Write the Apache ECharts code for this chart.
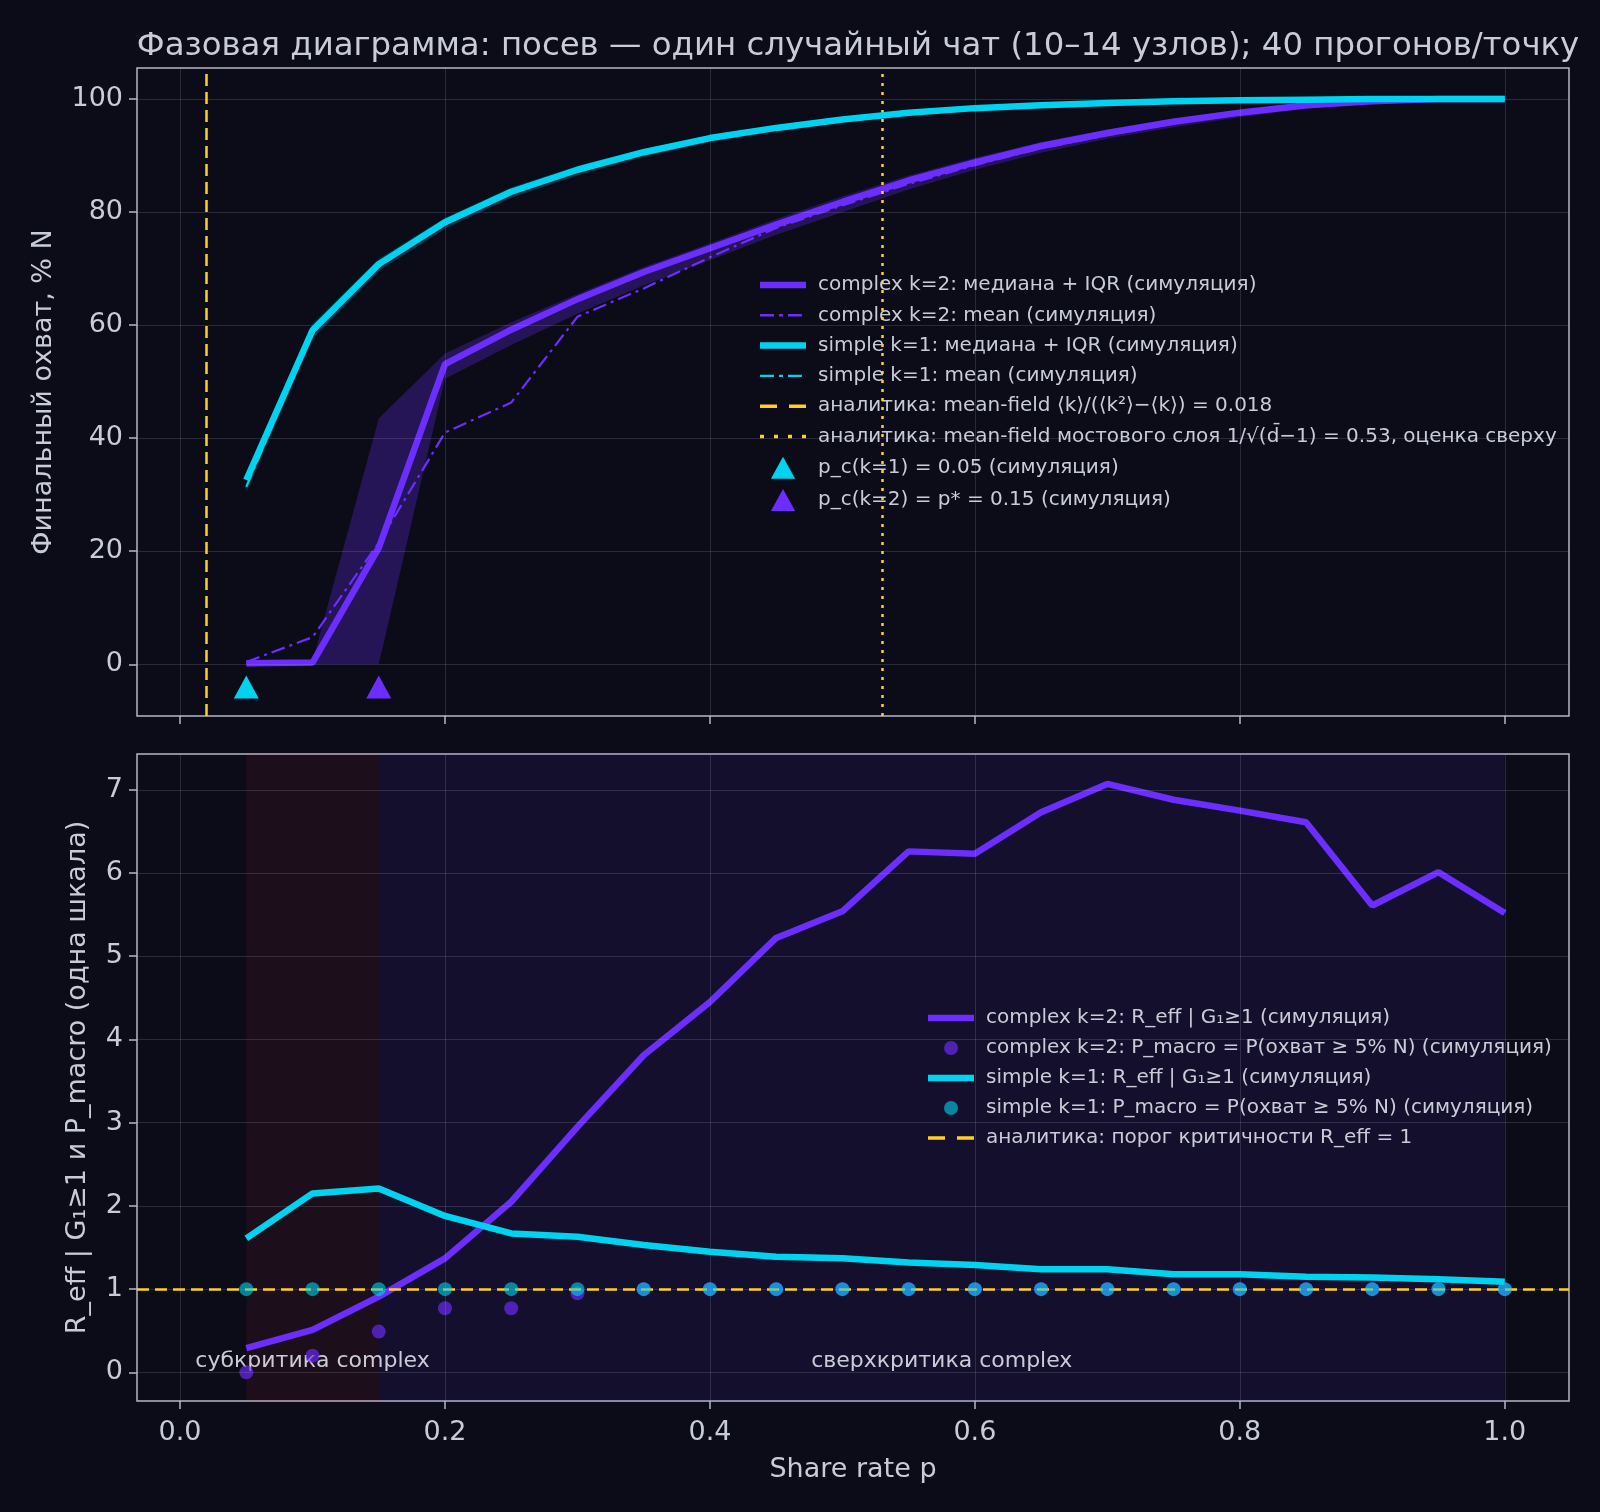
<!DOCTYPE html>
<html>
<head>
<meta charset="utf-8">
<title>Фазовая диаграмма</title>
<script src="https://cdn.jsdelivr.net/npm/echarts@6.0.0/dist/echarts.min.js"></script>
<style>
  html, body { margin: 0; padding: 0; background: #0c0b18; }
  #main { width: 1600px; height: 1512px; }
</style>
</head>
<body>
<div id="main"></div>
<script>
// share rate grid (x)
const shareRates = [0.05, 0.10, 0.15, 0.20, 0.25, 0.30, 0.35, 0.40, 0.45, 0.50,
                    0.55, 0.60, 0.65, 0.70, 0.75, 0.80, 0.85, 0.90, 0.95, 1.00];

// top panel: final reach, % N
const complexMedian = [0.2, 0.3, 20.6, 53.1, 59.2, 64.6, 69.4, 73.6, 77.8, 81.8, 85.6, 88.8, 91.7, 94.0, 96.0, 97.6, 98.9, 99.6, 100, 100];
const complexQ1     = [0, 0, 0, 50.5, 56.5, 62.0, 67.0, 71.5, 76.0, 80.0, 84.0, 87.5, 90.5, 93.0, 95.0, 96.8, 98.3, 99.2, 99.8, 100];
const complexQ3     = [0.4, 0.6, 43.5, 55.0, 60.5, 65.5, 70.3, 74.5, 78.8, 82.8, 86.5, 89.6, 92.4, 94.6, 96.6, 98.1, 99.3, 99.9, 100, 100];
const complexMean   = [0.4, 4.8, 21.5, 41.0, 46.3, 61.5, 66.5, 72.0, 77.2, 81.2, 85.0, 88.3, 91.3, 93.6, 95.7, 97.4, 98.7, 99.4, 99.8, 100];
const simpleMedian  = [32.6, 59.1, 70.8, 78.2, 83.6, 87.5, 90.6, 93.1, 94.9, 96.4, 97.6, 98.4, 98.9, 99.3, 99.6, 99.8, 99.9, 100, 100, 100];
const simpleQ1      = [30.5, 57.5, 69.5, 77.0, 82.5, 86.5, 89.8, 92.4, 94.3, 95.9, 97.2, 98.0, 98.6, 99.0, 99.3, 99.6, 99.8, 99.9, 100, 100];
const simpleQ3      = [34.0, 60.3, 71.8, 79.0, 84.4, 88.2, 91.2, 93.6, 95.4, 96.8, 97.9, 98.7, 99.2, 99.5, 99.8, 99.9, 100, 100, 100, 100];
const simpleMean    = [31.4, 58.6, 70.4, 77.9, 83.3, 87.3, 90.4, 92.9, 94.8, 96.3, 97.5, 98.3, 98.8, 99.2, 99.5, 99.7, 99.8, 99.9, 100, 100];

// bottom panel: R_eff | G1>=1 and P_macro
const complexReff   = [0.29, 0.51, 0.91, 1.37, 2.05, 2.95, 3.81, 4.45, 5.22, 5.54, 6.26, 6.23, 6.73, 7.07, 6.88, 6.75, 6.61, 5.61, 6.01, 5.52];
const simpleReff    = [1.61, 2.15, 2.21, 1.88, 1.67, 1.63, 1.53, 1.45, 1.39, 1.37, 1.32, 1.29, 1.24, 1.24, 1.18, 1.18, 1.15, 1.14, 1.12, 1.09];
const complexPmacro = [0.0, 0.2, 0.49, 0.77, 0.77, 0.95, 1, 1, 1, 1, 1, 1, 1, 1, 1, 1, 1, 1, 1, 1];
const simplePmacro  = [1, 1, 1, 1, 1, 1, 1, 1, 1, 1, 1, 1, 1, 1, 1, 1, 1, 1, 1, 1];

// thresholds
const pcSimple = 0.05;
const pcComplex = 0.15;
const pcMarkerLevel = -4;
const meanFieldPc = 0.0175;
const bridgePc = 0.525;
const criticalReff = 1;

// ticks
const xTicks = [0, 0.2, 0.4, 0.6, 0.8, 1.0];
const topYTicks = [0, 20, 40, 60, 80, 100];
const bottomYTicks = [0, 1, 2, 3, 4, 5, 6, 7];

const PURPLE = '#6c2dff';
const CYAN = '#00d3ef';
const YELLOW = '#ffcf24';
const TEXT = '#c9ccd8';
const SPINE = '#b4b8c8';
const GRIDLINE = 'rgba(200,200,230,0.16)';
const FONT = 'DejaVu Sans';

// legend handles
const ICON_THICK = 'path://M0,0H46V6.5H0Z';
const ICON_DASHDOT = 'path://M0,0H14V2.4H0Z M19,0H23V2.4H19Z M28,0H42V2.4H28Z M46,0H46.1V2.4H46Z';
const ICON_DASH = 'path://M0,0H17V3.4H0Z M29,0H46V3.4H29Z';
const ICON_DOT = 'path://M0,0H4V3.6H0Z M14,0H18V3.6H14Z M28,0H32V3.6H28Z M42,0H46V3.6H42Z';
const ICON_TRI = 'path://M11,0L22,20L0,20Z';

const pairs = (ys) => shareRates.map((x, i) => [x, ys[i]]);

function gridLines(xi, yTicks) {
  return {
    type: 'line', xAxisIndex: xi, yAxisIndex: xi, data: [], silent: true, z: 1,
    markLine: {
      silent: true, symbol: ['none', 'none'], label: { show: false },
      lineStyle: { color: GRIDLINE, width: 1, type: 'solid' },
      data: xTicks.map(v => ({ xAxis: v })).concat(yTicks.map(v => ({ yAxis: v })))
    }
  };
}

function bandSeries(lo, hi, color) {
  return {
    type: 'custom', xAxisIndex: 0, yAxisIndex: 0, silent: true, z: 2,
    data: shareRates.map((x, i) => [x, lo[i], hi[i]]),
    encode: { x: 0, y: [1, 2] },
    renderItem: (params, api) => {
      if (params.dataIndex !== 0) return null;
      const upper = shareRates.map((x, i) => api.coord([x, hi[i]]));
      const lower = shareRates.map((x, i) => api.coord([x, lo[i]])).reverse();
      return { type: 'polygon', shape: { points: upper.concat(lower) }, style: { fill: color } };
    }
  };
}

function xAxisCfg(idx, showLabels) {
  return {
    type: 'value', gridIndex: idx, min: -0.0325, max: 1.0485,
    axisLine: { show: false, onZero: false },
    axisTick: { show: true, customValues: xTicks, length: 8, lineStyle: { color: SPINE, width: 1.5 } },
    axisLabel: {
      show: showLabels, customValues: xTicks, color: TEXT, fontSize: 27, fontFamily: FONT, margin: 18,
      formatter: v => v.toFixed(1)
    },
    splitLine: { show: false },
    name: showLabels ? 'Share rate p' : '', nameLocation: 'middle', nameGap: 55,
    nameTextStyle: { color: TEXT, fontSize: 27, fontFamily: FONT }
  };
}

function yAxisCfg(idx, min, max, ticks, name, gap) {
  return {
    type: 'value', gridIndex: idx, min: min, max: max,
    axisLine: { show: false, onZero: false },
    axisTick: { show: true, customValues: ticks, length: 8, lineStyle: { color: SPINE, width: 1.5 } },
    axisLabel: { customValues: ticks, color: TEXT, fontSize: 27, fontFamily: FONT, margin: 14 },
    splitLine: { show: false },
    name: name, nameLocation: 'middle', nameRotate: 90, nameGap: gap,
    nameTextStyle: { color: TEXT, fontSize: 27, fontFamily: FONT }
  };
}

const NAMES = {
  cMed: 'complex k=2: медиана + IQR (симуляция)',
  cMean: 'complex k=2: mean (симуляция)',
  sMed: 'simple k=1: медиана + IQR (симуляция)',
  sMean: 'simple k=1: mean (симуляция)',
  mf: 'аналитика: mean-field ⟨k⟩/(⟨k²⟩−⟨k⟩) = 0.018',
  bridge: 'аналитика: mean-field мостового слоя 1/√(d̄−1) = 0.53, оценка сверху',
  pcS: 'p_c(k=1) = 0.05 (симуляция)',
  pcC: 'p_c(k=2) = p* = 0.15 (симуляция)',
  cReff: 'complex k=2: R_eff | G₁≥1 (симуляция)',
  cPm: 'complex k=2: P_macro = P(охват ≥ 5% N) (симуляция)',
  sReff: 'simple k=1: R_eff | G₁≥1 (симуляция)',
  sPm: 'simple k=1: P_macro = P(охват ≥ 5% N) (симуляция)',
  crit: 'аналитика: порог критичности R_eff = 1'
};

let myChart = echarts.init(document.getElementById('main'));
myChart.setOption({
  backgroundColor: '#0c0b18',
  animation: false,
  textStyle: { fontFamily: FONT },
  title: {
    text: 'Фазовая диаграмма: посев — один случайный чат (10–14 узлов); 40 прогонов/точку',
    left: 853, top: 26, textAlign: 'center',
    textStyle: { color: TEXT, fontSize: 32.4, fontWeight: 'normal', fontFamily: FONT }
  },
  grid: [
    { left: 137, right: 31, top: 68, height: 648, show: true, borderColor: SPINE, borderWidth: 1.5, backgroundColor: 'transparent' },
    { left: 137, right: 31, top: 754, height: 647, show: true, borderColor: SPINE, borderWidth: 1.5, backgroundColor: 'transparent' }
  ],
  xAxis: [xAxisCfg(0, false), xAxisCfg(1, true)],
  yAxis: [
    yAxisCfg(0, -9.15, 105.5, topYTicks, 'Финальный охват, % N', 80),
    yAxisCfg(1, -0.344, 7.43, bottomYTicks, 'R_eff | G₁≥1 и P_macro (одна шкала)', 46)
  ],
  legend: [
    {
      data: [
        { name: NAMES.cMed, icon: ICON_THICK },
        { name: NAMES.cMean, icon: ICON_DASHDOT },
        { name: NAMES.sMed, icon: ICON_THICK },
        { name: NAMES.sMean, icon: ICON_DASHDOT },
        { name: NAMES.mf, icon: ICON_DASH },
        { name: NAMES.bridge, icon: ICON_DOT },
        { name: NAMES.pcS, icon: ICON_TRI },
        { name: NAMES.pcC, icon: ICON_TRI }
      ],
      orient: 'vertical', left: 755, top: 270, itemWidth: 46, itemHeight: 22, itemGap: 10.3,
      selectedMode: false, symbolKeepAspect: true,
      textStyle: { color: TEXT, fontSize: 20, fontFamily: FONT, padding: [0, 0, 0, 7] }
    },
    {
      data: [
        { name: NAMES.cReff, icon: ICON_THICK },
        { name: NAMES.cPm, icon: 'circle' },
        { name: NAMES.sReff, icon: ICON_THICK },
        { name: NAMES.sPm, icon: 'circle' },
        { name: NAMES.crit, icon: ICON_DASH }
      ],
      orient: 'vertical', left: 923, top: 1003, itemWidth: 46, itemHeight: 14, itemGap: 10,
      selectedMode: false, symbolKeepAspect: true,
      textStyle: { color: TEXT, fontSize: 20, fontFamily: FONT, padding: [0, 0, 0, 7] }
    }
  ],
  series: [
    // ---------- top panel ----------
    gridLines(0, topYTicks),
    bandSeries(complexQ1, complexQ3, 'rgba(108,45,255,0.27)'),
    bandSeries(simpleQ1, simpleQ3, 'rgba(0,211,239,0.16)'),
    { type: 'line', name: NAMES.cMed, xAxisIndex: 0, yAxisIndex: 0, data: pairs(complexMedian),
      symbol: 'none', color: PURPLE, lineStyle: { color: PURPLE, width: 6.5 }, z: 4 },
    { type: 'line', name: NAMES.cMean, xAxisIndex: 0, yAxisIndex: 0, data: pairs(complexMean),
      symbol: 'none', color: PURPLE, lineStyle: { color: PURPLE, width: 2.2, type: [14, 5, 3, 5] }, z: 4 },
    { type: 'line', name: NAMES.sMed, xAxisIndex: 0, yAxisIndex: 0, data: pairs(simpleMedian),
      symbol: 'none', color: CYAN, lineStyle: { color: CYAN, width: 6.5 }, z: 5 },
    { type: 'line', name: NAMES.sMean, xAxisIndex: 0, yAxisIndex: 0, data: pairs(simpleMean),
      symbol: 'none', color: CYAN, lineStyle: { color: CYAN, width: 2.2, type: [14, 5, 3, 5] }, z: 5 },
    { type: 'line', name: NAMES.mf, xAxisIndex: 0, yAxisIndex: 0, data: [], symbol: 'none', color: YELLOW,
      lineStyle: { color: YELLOW, width: 2.5, type: [12, 6] }, z: 6,
      markLine: { silent: true, symbol: ['none', 'none'], label: { show: false },
        lineStyle: { color: YELLOW, width: 2.5, type: [12, 6] }, data: [{ xAxis: meanFieldPc }] } },
    { type: 'line', name: NAMES.bridge, xAxisIndex: 0, yAxisIndex: 0, data: [], symbol: 'none', color: YELLOW,
      lineStyle: { color: YELLOW, width: 2.5, type: [3, 6] }, z: 6,
      markLine: { silent: true, symbol: ['none', 'none'], label: { show: false },
        lineStyle: { color: YELLOW, width: 2.5, type: [3, 6] }, data: [{ xAxis: bridgePc }] } },
    { type: 'scatter', name: NAMES.pcS, xAxisIndex: 0, yAxisIndex: 0, data: [[pcSimple, pcMarkerLevel]],
      symbol: ICON_TRI, symbolSize: [25, 23], itemStyle: { color: CYAN, opacity: 1 }, z: 7 },
    { type: 'scatter', name: NAMES.pcC, xAxisIndex: 0, yAxisIndex: 0, data: [[pcComplex, pcMarkerLevel]],
      symbol: ICON_TRI, symbolSize: [25, 23], itemStyle: { color: PURPLE, opacity: 1 }, z: 7 },

    // ---------- bottom panel ----------
    gridLines(1, bottomYTicks),
    { type: 'line', name: 'spans', xAxisIndex: 1, yAxisIndex: 1, data: [], silent: true, z: 0,
      markArea: {
        silent: true,
        data: [
          [{ xAxis: pcSimple, itemStyle: { color: 'rgba(255,60,90,0.07)' },
             label: { show: true, position: 'insideBottom', distance: 29, formatter: 'субкритика complex',
                      color: TEXT, fontSize: 22, fontFamily: FONT } },
           { xAxis: pcComplex }],
          [{ xAxis: pcComplex, itemStyle: { color: 'rgba(110,50,255,0.09)' },
             label: { show: true, position: 'insideBottom', distance: 29, formatter: 'сверхкритика complex',
                      color: TEXT, fontSize: 22, fontFamily: FONT } },
           { xAxis: 1.0 }]
        ]
      } },
    { type: 'line', name: NAMES.cReff, xAxisIndex: 1, yAxisIndex: 1, data: pairs(complexReff),
      symbol: 'none', color: PURPLE, lineStyle: { color: PURPLE, width: 6.5 }, z: 4 },
    { type: 'scatter', name: NAMES.cPm, xAxisIndex: 1, yAxisIndex: 1, data: pairs(complexPmacro),
      symbol: 'circle', symbolSize: 14, itemStyle: { color: PURPLE, opacity: 0.65 }, z: 4 },
    { type: 'line', name: NAMES.sReff, xAxisIndex: 1, yAxisIndex: 1, data: pairs(simpleReff),
      symbol: 'none', color: CYAN, lineStyle: { color: CYAN, width: 6.5 }, z: 5 },
    { type: 'scatter', name: NAMES.sPm, xAxisIndex: 1, yAxisIndex: 1, data: pairs(simplePmacro),
      symbol: 'circle', symbolSize: 14, itemStyle: { color: CYAN, opacity: 0.6 }, z: 5 },
    { type: 'line', name: NAMES.crit, xAxisIndex: 1, yAxisIndex: 1, data: [], symbol: 'none', color: YELLOW,
      lineStyle: { color: YELLOW, width: 2.5, type: [12, 6] }, z: 6,
      markLine: { silent: true, symbol: ['none', 'none'], label: { show: false },
        lineStyle: { color: YELLOW, width: 2.5, type: [12, 6] }, data: [{ yAxis: criticalReff }] } }
  ]
});
</script>
</body>
</html>
